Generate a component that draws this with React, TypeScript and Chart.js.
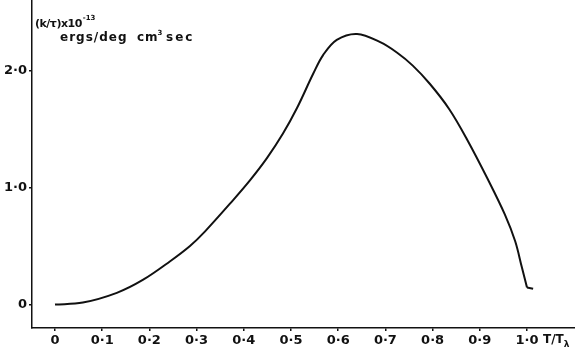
import React, { useEffect, useRef } from "react";
import { Chart, registerables } from "chart.js";

Chart.register(...registerables);

// T/Tλ values
const tRatio = [0.0, 0.059, 0.131, 0.186, 0.244, 0.286, 0.318, 0.377, 0.413, 0.449, 0.483, 0.513, 0.547, 0.568, 0.597, 0.64, 0.689, 0.725, 0.758, 0.794, 0.835, 0.873, 0.917, 0.953, 0.975, 0.989, 1.0];
// (k/τ) x 10^-13 ergs/deg cm^3 sec
const kOverTau = [0.0, 0.017, 0.1, 0.21, 0.37, 0.5, 0.625, 0.89, 1.06, 1.25, 1.46, 1.68, 1.97, 2.13, 2.26, 2.31, 2.24, 2.15, 2.04, 1.885, 1.67, 1.41, 1.07, 0.77, 0.54, 0.32, 0.145];
// short flat tail after the drop at T/Tλ = 1
const tailRatio = [1.0, 1.013];
const tailK = [0.145, 0.136];

const xTicks = [0, 0.1, 0.2, 0.3, 0.4, 0.5, 0.6, 0.7, 0.8, 0.9, 1.0];
const xTickLabels = ["0", "0·1", "0·2", "0·3", "0·4", "0·5", "0·6", "0·7", "0·8", "0·9", "1·0"];
const yTicks = [0, 1, 2];
const yTickLabels = ["0", "1·0", "2·0"];

const FONT = '"DejaVu Sans", sans-serif';

const textPlugin = {
  id: "annotText",
  afterDraw(chart: any) {
    const ctx = chart.ctx;
    ctx.save();
    ctx.fillStyle = "#111";
    ctx.textBaseline = "alphabetic";
    ctx.textAlign = "left";
    // y-axis title
    ctx.font = `bold 11px ${FONT}`;
    (ctx as any).letterSpacing = "-0.5px";
    let x = 35;
    const line1 = "(k/τ)x10";
    ctx.fillText(line1, x, 27);
    x += ctx.measureText(line1).width;
    (ctx as any).letterSpacing = "0px";
    ctx.font = `bold 7px ${FONT}`;
    ctx.fillText("-13", x + 1, 20);
    ctx.font = `bold 12px ${FONT}`;
    (ctx as any).letterSpacing = "1px";
    ctx.fillText("ergs/deg", 60, 41);
    ctx.fillText("cm", 137, 41);
    const x2 = 137 + ctx.measureText("cm").width;
    ctx.font = `bold 7px ${FONT}`;
    (ctx as any).letterSpacing = "0px";
    ctx.fillText("3", x2 - 1, 35);
    ctx.font = `bold 12px ${FONT}`;
    (ctx as any).letterSpacing = "2px";
    ctx.fillText("sec", 166, 41);
    (ctx as any).letterSpacing = "0px";
    // x-axis title next to 1·0
    const xs = chart.scales.x;
    const px = xs.getPixelForValue(1.0);
    ctx.font = `bold 12px ${FONT}`;
    const t = "T/T";
    ctx.fillText(t, px + 16, 343);
    const w = ctx.measureText(t).width;
    ctx.font = `bold 9px ${FONT}`;
    ctx.fillText("λ", px + 16 + w, 347);
    ctx.restore();
  },
};

export default function App() {
  const ref = useRef<HTMLCanvasElement | null>(null);
  useEffect(() => {
    document.body.style.margin = "0";
    const canvas = ref.current!;
    const chart = new Chart(canvas, {
      type: "scatter",
      data: {
        datasets: [
          {
            data: tRatio.map((v, i) => ({ x: v, y: kOverTau[i] })),
            showLine: true,
            borderColor: "#111",
            borderWidth: 2,
            pointRadius: 0,
            tension: 0.35,
            fill: false,
          },
          {
            data: tailRatio.map((v, i) => ({ x: v, y: tailK[i] })),
            showLine: true,
            borderColor: "#111",
            borderWidth: 2,
            pointRadius: 0,
            tension: 0,
            fill: false,
          },
        ],
      },
      options: {
        animation: false,
        responsive: false,
        maintainAspectRatio: false,
        layout: { padding: 0, autoPadding: false },
        plugins: { legend: { display: false }, tooltip: { enabled: false } },
        scales: {
          x: {
            type: "linear",
            min: -0.0487,
            max: 1.1017,
            afterBuildTicks: (axis: any) => {
              axis.ticks = xTicks.map((v) => ({ value: v }));
            },
            afterFit: (axis: any) => {
              axis.height = 25;
              axis.paddingLeft = 0;
              axis.paddingRight = 0;
              axis.paddingTop = 0;
              axis.paddingBottom = 0;
            },
            ticks: {
              autoSkip: false,
              maxRotation: 0,
              padding: 2,
              color: "#111",
              font: { family: FONT, size: 13, weight: "bold" },
              callback: (v: any) => {
                const i = xTicks.findIndex((t) => Math.abs(t - v) < 1e-6);
                return i >= 0 ? xTickLabels[i] : "";
              },
            },
            grid: { drawOnChartArea: false, drawTicks: true, tickLength: 3, color: "#111", lineWidth: 1.5 },
            border: { display: true, color: "#111", width: 1.5 },
          },
          y: {
            type: "linear",
            min: -0.2,
            max: 2.6,
            afterBuildTicks: (axis: any) => {
              axis.ticks = yTicks.map((v) => ({ value: v }));
            },
            afterFit: (axis: any) => {
              axis.width = 32;
              axis.paddingLeft = 0;
              axis.paddingRight = 0;
              axis.paddingTop = 0;
              axis.paddingBottom = 0;
            },
            ticks: {
              autoSkip: false,
              padding: 2,
              color: "#111",
              font: { family: FONT, size: 13, weight: "bold" },
              callback: (v: any) => {
                const i = yTicks.findIndex((t) => Math.abs(t - v) < 1e-6);
                return i >= 0 ? yTickLabels[i] : "";
              },
            },
            grid: { drawOnChartArea: false, drawTicks: true, tickLength: 3, color: "#111", lineWidth: 1.5 },
            border: { display: true, color: "#111", width: 1.5 },
          },
        },
      },
      plugins: [textPlugin],
    } as any);
    return () => chart.destroy();
  }, []);
  return <canvas ref={ref} width={575} height={353} style={{ display: "block" }} />;
}
